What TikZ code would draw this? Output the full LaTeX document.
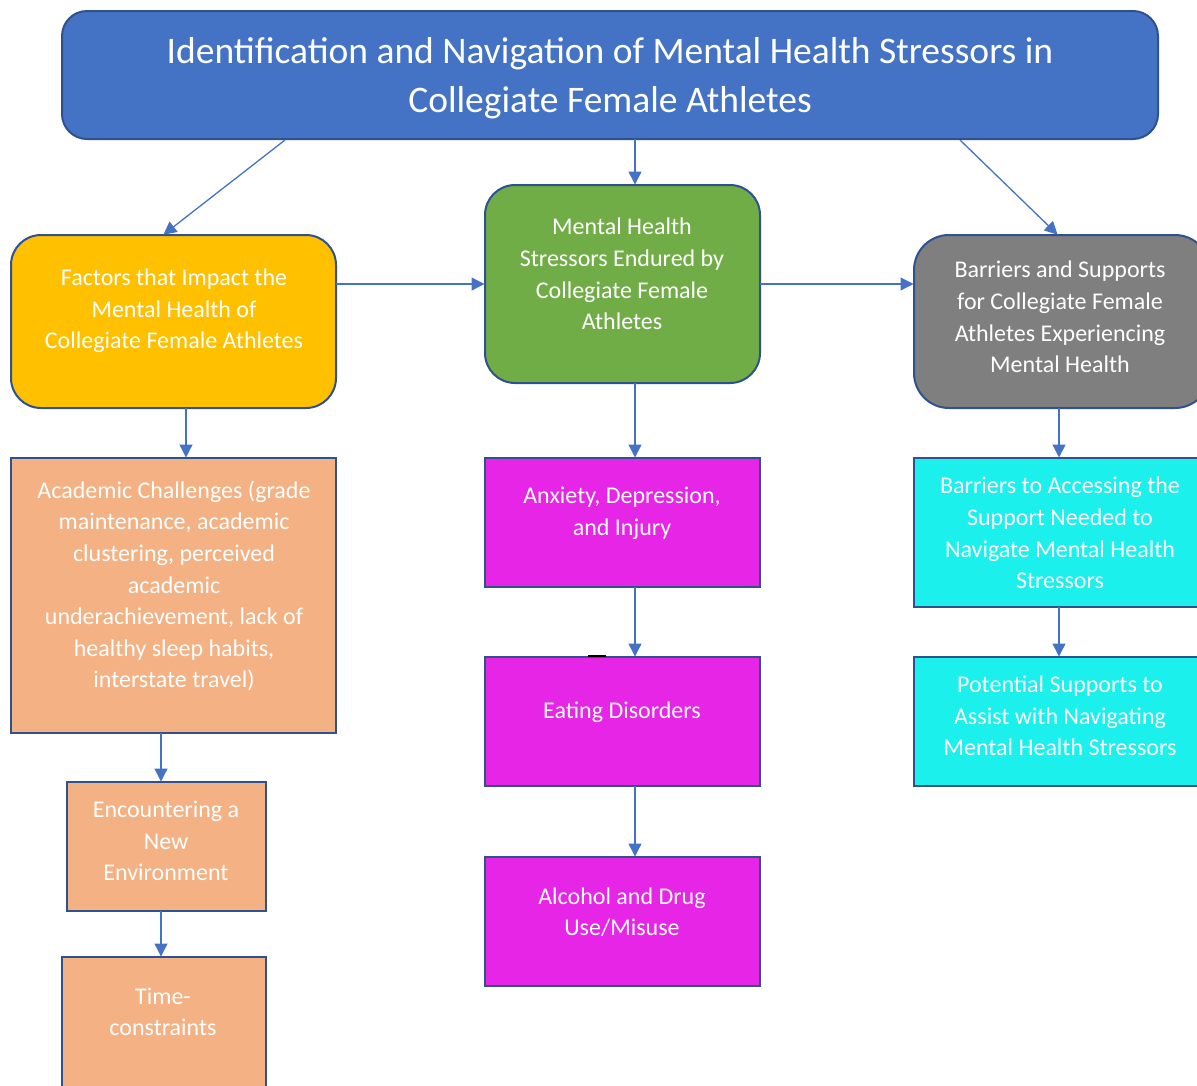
\documentclass[tikz,border=0pt]{standalone}
\usepackage{fontspec}
\setmainfont{Carlito}
\usetikzlibrary{arrows.meta}
\definecolor{titleblue}{HTML}{4472C4}
\definecolor{edgeblue}{HTML}{2F528F}
\definecolor{factoryellow}{HTML}{FFC000}
\definecolor{stressgreen}{HTML}{70AD47}
\definecolor{supportgray}{HTML}{7F7F7F}
\definecolor{peach}{HTML}{F4B183}
\definecolor{magentabox}{HTML}{E625E6}
\definecolor{cyanbox}{HTML}{1CF0EC}
\tikzset{
  boxbase/.style={draw=edgeblue, line width=2pt, inner sep=0pt, outer sep=0pt},
  roundbox/.style={boxbase, rounded corners=#1},
  label21/.style={text=white, align=center, inner sep=0pt,
    font=\fontsize{24}{31.6}\selectfont},
  conn/.style={draw=titleblue, line width=1.3pt,
    -{Triangle[length=13pt,width=13pt]}, shorten >=0.5pt},
}
\newcommand{\boxat}[6]{% name, x1, y1, x2, y2, style
  \node[#6, minimum width={#4-#2}, minimum height={#5-#3}] (#1) at ({(#2+#4)/2},{(#3+#5)/2}) {};}
\begin{document}
\begin{tikzpicture}[x=1pt,y=-1pt]
\useasboundingbox (0,0) rectangle (1197,1085);

% title
\boxat{title}{62}{11}{1158}{139}{roundbox=25pt, fill=titleblue}
\node[text=white, align=center, inner sep=0pt, font=\fontsize{37.5}{49}\selectfont]
  at (610,78) {Identification and Navigation of Mental Health Stressors in\\Collegiate Female Athletes};

% second row
\boxat{factors}{11}{235}{336}{408}{roundbox=30pt, fill=factoryellow}
\node[label21] at (174,311) {Factors that Impact the\\Mental Health of\\Collegiate Female Athletes};

\boxat{stress}{485}{185}{760}{383}{roundbox=30pt, fill=stressgreen}
\node[label21] at (622,274) {Mental Health\\Stressors Endured by\\Collegiate Female\\Athletes};

\boxat{support}{914}{235}{1210}{408}{roundbox=35pt, fill=supportgray}
\node[label21] at (1060,317) {Barriers and Supports\\for Collegiate Female\\Athletes Experiencing\\Mental Health};

% left column
\boxat{academic}{11}{458}{336}{733}{boxbase, fill=peach}
\node[label21] at (174,586) {Academic Challenges (grade\\maintenance, academic\\clustering, perceived\\academic\\underachievement, lack of\\healthy sleep habits,\\interstate travel)};

\boxat{environ}{67}{782}{266}{911}{boxbase, fill=peach}
\node[label21] at (166,841) {Encountering a\\New\\Environment};

\boxat{timec}{62}{957}{266}{1100}{boxbase, fill=peach}
\node[label21] at (163,1012) {Time-\\constraints};

% middle column
\boxat{anxiety}{485}{458}{760}{587}{boxbase, fill=magentabox}
\node[label21] at (622,513) {Anxiety, Depression,\\and Injury};

\boxat{eating}{485}{657}{760}{786}{boxbase, fill=magentabox}
\node[label21] at (622,712) {Eating Disorders};
\fill[black] (588,654.5) rectangle (606,657);

\boxat{alcohol}{485}{857}{760}{986}{boxbase, fill=magentabox}
\node[label21] at (622,912) {Alcohol and Drug\\Use/Misuse};

% right column
\boxat{barriers}{914}{458}{1210}{607}{boxbase, fill=cyanbox}
\node[label21] at (1060,533) {Barriers to Accessing the\\Support Needed to\\Navigate Mental Health\\Stressors};

\boxat{potential}{914}{657}{1210}{786}{boxbase, fill=cyanbox}
\node[label21] at (1060,716) {Potential Supports to\\Assist with Navigating\\Mental Health Stressors};

% connectors
\coordinate (t1) at (285,140);
\coordinate (t3) at (960,140);
\draw[conn] (t1) -- (factors.north -| 163,0);
\draw[conn] (title.south -| 635,0) -- (stress.north -| 635,0);
\draw[conn] (t3) -- (support.north -| 1058,0);
\draw[conn] (factors.east |- 0,284) -- (stress.west |- 0,284);
\draw[conn] (stress.east |- 0,284) -- (support.west |- 0,284);
\draw[conn] (factors.south -| 186,0) -- (academic.north -| 186,0);
\draw[conn] (stress.south -| 635,0) -- (anxiety.north -| 635,0);
\draw[conn] (support.south -| 1059,0) -- (barriers.north -| 1059,0);
\draw[conn] (academic.south -| 161,0) -- (environ.north -| 161,0);
\draw[conn] (environ.south -| 161,0) -- (timec.north -| 161,0);
\draw[conn] (anxiety.south -| 635,0) -- (eating.north -| 635,0);
\draw[conn] (eating.south -| 635,0) -- (alcohol.north -| 635,0);
\draw[conn] (barriers.south -| 1059,0) -- (potential.north -| 1059,0);
\end{tikzpicture}
\end{document}
